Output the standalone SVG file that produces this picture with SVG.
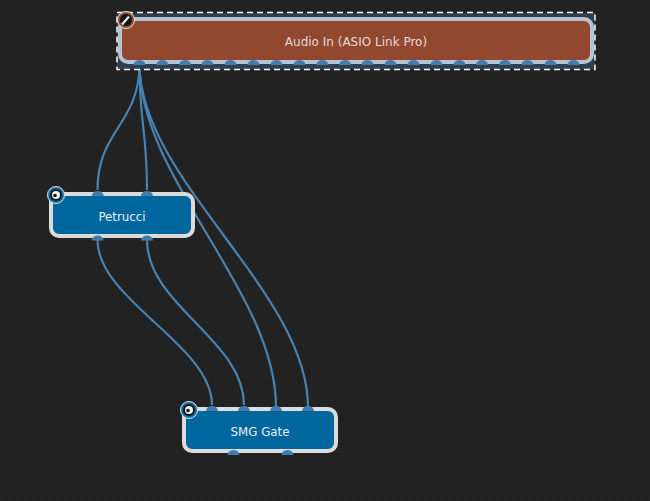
<svg xmlns="http://www.w3.org/2000/svg" width="650" height="501" viewBox="0 0 650 501">
<style>
.wire{fill:none;stroke:#4682b4;stroke-width:2.200}
.port{fill:#3f7cb0}
.sel{fill:#2f3e4e}
.dash{fill:none;stroke:#fff;stroke-width:1.500;stroke-dasharray:6 4}
.box{stroke-width:4}
.blue{fill:#00669e;stroke:#dcdcdc}
.red{fill:#92472f;stroke:#b7c3d0}
text{font-family:"DejaVu Sans",sans-serif;font-size:11.800px;fill:#e8eef2;text-anchor:middle}
#audio-in text{font-size:12px;fill:#e2dcd8}
.ring{stroke:#dfe6ea;stroke-width:1}
.rb{fill:#0e6ea6}
.rr{fill:#93472f}
.core{fill:#141414}
.knob{fill:#f2f2f2}
</style>
<defs>
<pattern id="bg" width="4" height="4" patternUnits="userSpaceOnUse">
<rect width="4" height="4" fill="#222"/>
<rect x="0" y="0" width="1" height="1" fill="#272727"/>
<rect x="2" y="2" width="1" height="1" fill="#272727"/>
<rect x="2" y="0" width="1" height="1" fill="#1f1f1f"/>
<rect x="0" y="2" width="1" height="1" fill="#1f1f1f"/>
</pattern>
<path id="dome" d="M-6 0a6 5 0 0 1 12 0z"/>
</defs>
<rect width="650" height="501" fill="url(#bg)"/>
<g id="connectors">
<path class="wire" d="M139.500 64C139.500 124 97.500 130 97.500 190"/>
<path class="wire" d="M139.500 64C139.500 124 147 130 147 190"/>
<path class="wire" d="M139.500 64C139.500 179 276 292 276 407"/>
<path class="wire" d="M139.500 64C139.500 179 308 292 308 407"/>
<path class="wire" d="M97.500 240C97.500 300 212 345 212 405"/>
<path class="wire" d="M147 240C147 305 244 340 244 405"/>
</g>
<g id="audio-in">
<rect class="sel" x="117" y="13" width="478" height="56.500"/>
<rect class="box red" x="120" y="19" width="472" height="43" rx="8"/>
<g class="port">
<use href="#dome" x="139.500" y="65"/><use href="#dome" x="162.500" y="65"/><use href="#dome" x="185" y="65"/><use href="#dome" x="207.500" y="65"/><use href="#dome" x="230.500" y="65"/><use href="#dome" x="253.500" y="65"/><use href="#dome" x="276.500" y="65"/><use href="#dome" x="299.500" y="65"/><use href="#dome" x="322.500" y="65"/><use href="#dome" x="345" y="65"/><use href="#dome" x="367.500" y="65"/><use href="#dome" x="390.500" y="65"/><use href="#dome" x="413.500" y="65"/><use href="#dome" x="436.500" y="65"/><use href="#dome" x="459.500" y="65"/><use href="#dome" x="482" y="65"/><use href="#dome" x="505" y="65"/><use href="#dome" x="527.500" y="65"/><use href="#dome" x="550.500" y="65"/><use href="#dome" x="573.500" y="65"/>
</g>
<rect class="dash" x="117" y="12.500" width="478" height="57"/>
<text x="356" y="46">Audio In (ASIO Link Pro)</text>
<circle class="rr ring" cx="126" cy="20" r="8.500"/>
<circle class="core" cx="126" cy="20" r="6"/>
<path d="M122 24.500L129 16.500" stroke="#dfe8f0" stroke-width="2.200" fill="none"/>
</g>
<g id="petrucci">
<rect class="box blue" x="51" y="194" width="142" height="42" rx="8"/>
<g class="port">
<use href="#dome" x="97.700" y="196"/><use href="#dome" x="147" y="196"/>
<use href="#dome" x="97.700" y="240.500"/><use href="#dome" x="147" y="240.500"/>
</g>
<text x="122" y="221">Petrucci</text>
<circle class="rb ring" cx="56" cy="195" r="8.500"/>
<circle class="core" cx="56" cy="195" r="6"/>
<circle class="knob" cx="56" cy="195" r="4"/>
<circle class="core" cx="55" cy="195.500" r="1.800"/>
</g>
<g id="smg-gate">
<rect class="box blue" x="184" y="409" width="152" height="42" rx="8"/>
<g class="port">
<use href="#dome" x="212" y="411"/><use href="#dome" x="244" y="411"/><use href="#dome" x="276" y="411"/><use href="#dome" x="308" y="411"/>
<use href="#dome" x="233.500" y="455"/><use href="#dome" x="287.500" y="455"/>
</g>
<text x="260" y="436">SMG Gate</text>
<circle class="rb ring" cx="189" cy="410" r="8.500"/>
<circle class="core" cx="189" cy="410" r="6"/>
<circle class="knob" cx="189" cy="410" r="4"/>
<circle class="core" cx="188" cy="410.500" r="1.800"/>
</g>
</svg>
